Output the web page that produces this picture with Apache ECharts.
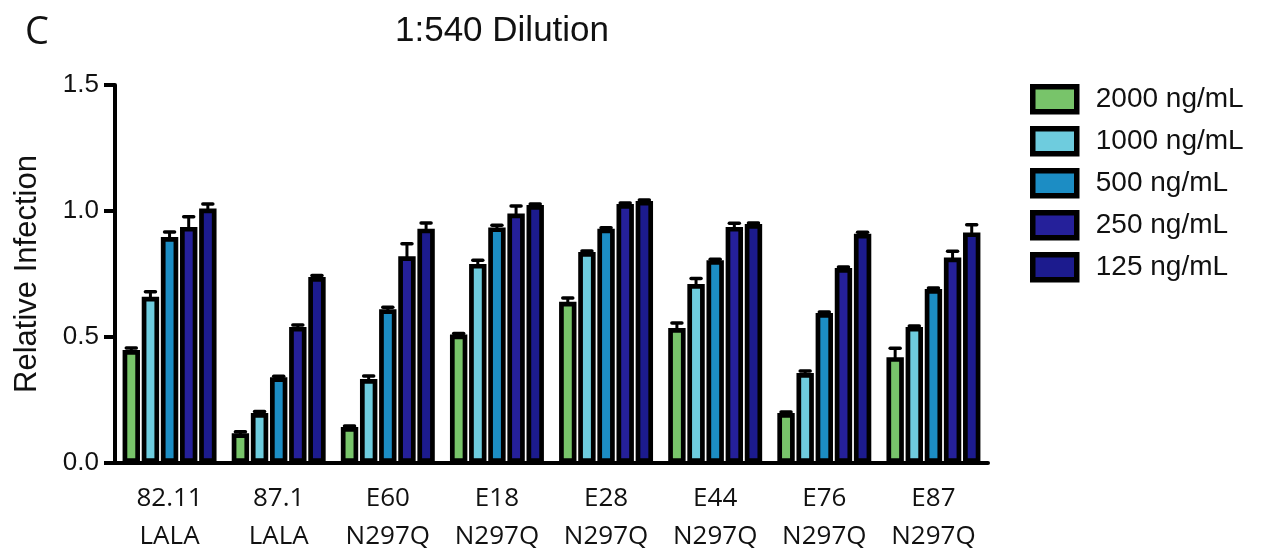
<!DOCTYPE html>
<html>
<head>
<meta charset="utf-8">
<script src="https://cdn.jsdelivr.net/npm/echarts@6/dist/echarts.min.js"></script>
<style>
  html, body { margin: 0; padding: 0; background: #fff; }
  #chart { width: 1267px; height: 552px; }
</style>
</head>
<body>
<div id="chart"></div>
<script>
// Antibody groups along the x axis
const categories = ['82.11\nLALA', '87.1\nLALA', 'E60\nN297Q', 'E18\nN297Q', 'E28\nN297Q', 'E44\nN297Q', 'E76\nN297Q', 'E87\nN297Q'];
// Concentrations (one bar series each)
const doses = ['2000 ng/mL', '1000 ng/mL', '500 ng/mL', '250 ng/mL', '125 ng/mL'];
const doseColors = ['#78C46A', '#6ECCDE', '#1C8DC4', '#25209A', '#1C1B8E'];

// Mean relative infection per concentration
const mean2000 = [0.448, 0.118, 0.143, 0.51, 0.64, 0.536, 0.198, 0.42];
const mean1000 = [0.66, 0.198, 0.333, 0.79, 0.837, 0.71, 0.357, 0.54];
const mean500  = [0.897, 0.34, 0.61, 0.935, 0.93, 0.805, 0.595, 0.69];
const mean250  = [0.937, 0.54, 0.82, 0.99, 1.028, 0.937, 0.774, 0.815];
const mean125  = [1.01, 0.738, 0.93, 1.024, 1.04, 0.948, 0.91, 0.915];

// Upper error (SEM) per concentration
const err2000 = [0.008, 0.006, 0.004, 0.004, 0.015, 0.02, 0.004, 0.035];
const err1000 = [0.02, 0.006, 0.012, 0.015, 0.004, 0.022, 0.008, 0.004];
const err500  = [0.02, 0.004, 0.008, 0.008, 0.004, 0.004, 0.004, 0.004];
const err250  = [0.04, 0.008, 0.05, 0.03, 0.004, 0.014, 0.004, 0.025];
const err125  = [0.018, 0.006, 0.022, 0.004, 0.004, 0.004, 0.006, 0.03];

// Y axis ticks
const yTicks = [0, 0.5, 1.0, 1.5];

const means = [mean2000, mean1000, mean500, mean250, mean125];
const errs = [err2000, err1000, err500, err250, err125];

const BAR_W = 17.4;
const BAR_GAP = 0.1;
const PITCH = BAR_W * (1 + BAR_GAP);
const N = doses.length;

const barSeries = doses.map((name, i) => ({
  name: name,
  type: 'bar',
  data: means[i],
  barWidth: BAR_W,
  barGap: (BAR_GAP * 100) + '%',
  itemStyle: { color: doseColors[i], borderColor: '#000', borderWidth: 4.7 },
  emphasis: { disabled: true },
  z: 2
}));

const errSeries = doses.map((name, i) => ({
  name: 'err ' + name,
  type: 'custom',
  z: 3,
  silent: true,
  data: means[i].map((m, k) => [k, m, errs[i][k]]),
  encode: { x: 0, y: 1 },
  renderItem: function (params, api) {
    const cat = api.value(0), v = api.value(1), e = api.value(2);
    const base = api.coord([cat, v]);
    const top = api.coord([cat, v + e]);
    const x = base[0] + (i - (N - 1) / 2) * PITCH;
    return {
      type: 'group',
      children: [
        { type: 'line', shape: { x1: x, y1: base[1] + 2, x2: x, y2: top[1] },
          style: { stroke: '#000', lineWidth: 3 } },
        { type: 'line', shape: { x1: x - 5, y1: top[1], x2: x + 5, y2: top[1] },
          style: { stroke: '#000', lineWidth: 3.5, lineCap: 'round' } }
      ]
    };
  }
}));

const chart = echarts.init(document.getElementById('chart'), null, { renderer: 'canvas' });
chart.setOption({
  animation: false,
  backgroundColor: '#fff',
  title: [
    { text: 'C', left: 20, top: 9,
      textStyle: { fontFamily: 'Open Sans', fontWeight: 'normal', fontSize: 38, color: '#111' } },
    { text: '1:540 Dilution', left: 390, top: 9,
      textStyle: { fontFamily: 'Liberation Sans', fontWeight: 'normal', fontSize: 35, color: '#111' } }
  ],
  legend: {
    data: doses,
    orient: 'vertical',
    left: 1030,
    top: 84,
    padding: 0,
    itemWidth: 44,
    itemHeight: 25,
    itemGap: 11.5,
    icon: 'rect',
    itemStyle: { borderColor: '#000', borderWidth: 5.5 },
    textStyle: { fontFamily: 'Liberation Sans', fontSize: 28, color: '#111', lineHeight: 25, padding: [0, 0, 0, 14] },
    selectedMode: false
  },
  grid: { left: 115, right: 279, top: 85, bottom: 89, containLabel: false, outerBoundsMode: 'none' },
  xAxis: {
    type: 'category',
    data: categories,
    axisLine: { lineStyle: { color: '#000', width: 4 } },
    axisTick: { show: false },
    axisLabel: { fontFamily: 'Open Sans', fontSize: 26, lineHeight: 38, color: '#111', margin: 17, interval: 0 }
  },
  yAxis: {
    type: 'value',
    min: yTicks[0],
    max: yTicks[yTicks.length - 1],
    interval: yTicks[1] - yTicks[0],
    name: 'Relative Infection',
    nameLocation: 'middle',
    nameGap: 72,
    nameTextStyle: { fontFamily: 'Liberation Sans', fontSize: 31, color: '#111' },
    axisLine: { show: true, lineStyle: { color: '#000', width: 4 } },
    axisTick: { show: true, length: 11, lineStyle: { color: '#000', width: 4 } },
    splitLine: { show: false },
    axisLabel: { fontFamily: 'Liberation Sans', fontSize: 26, color: '#111', margin: 16,
      formatter: v => v.toFixed(1) }
  },
  series: barSeries.concat(errSeries)
});
</script>
</body>
</html>
